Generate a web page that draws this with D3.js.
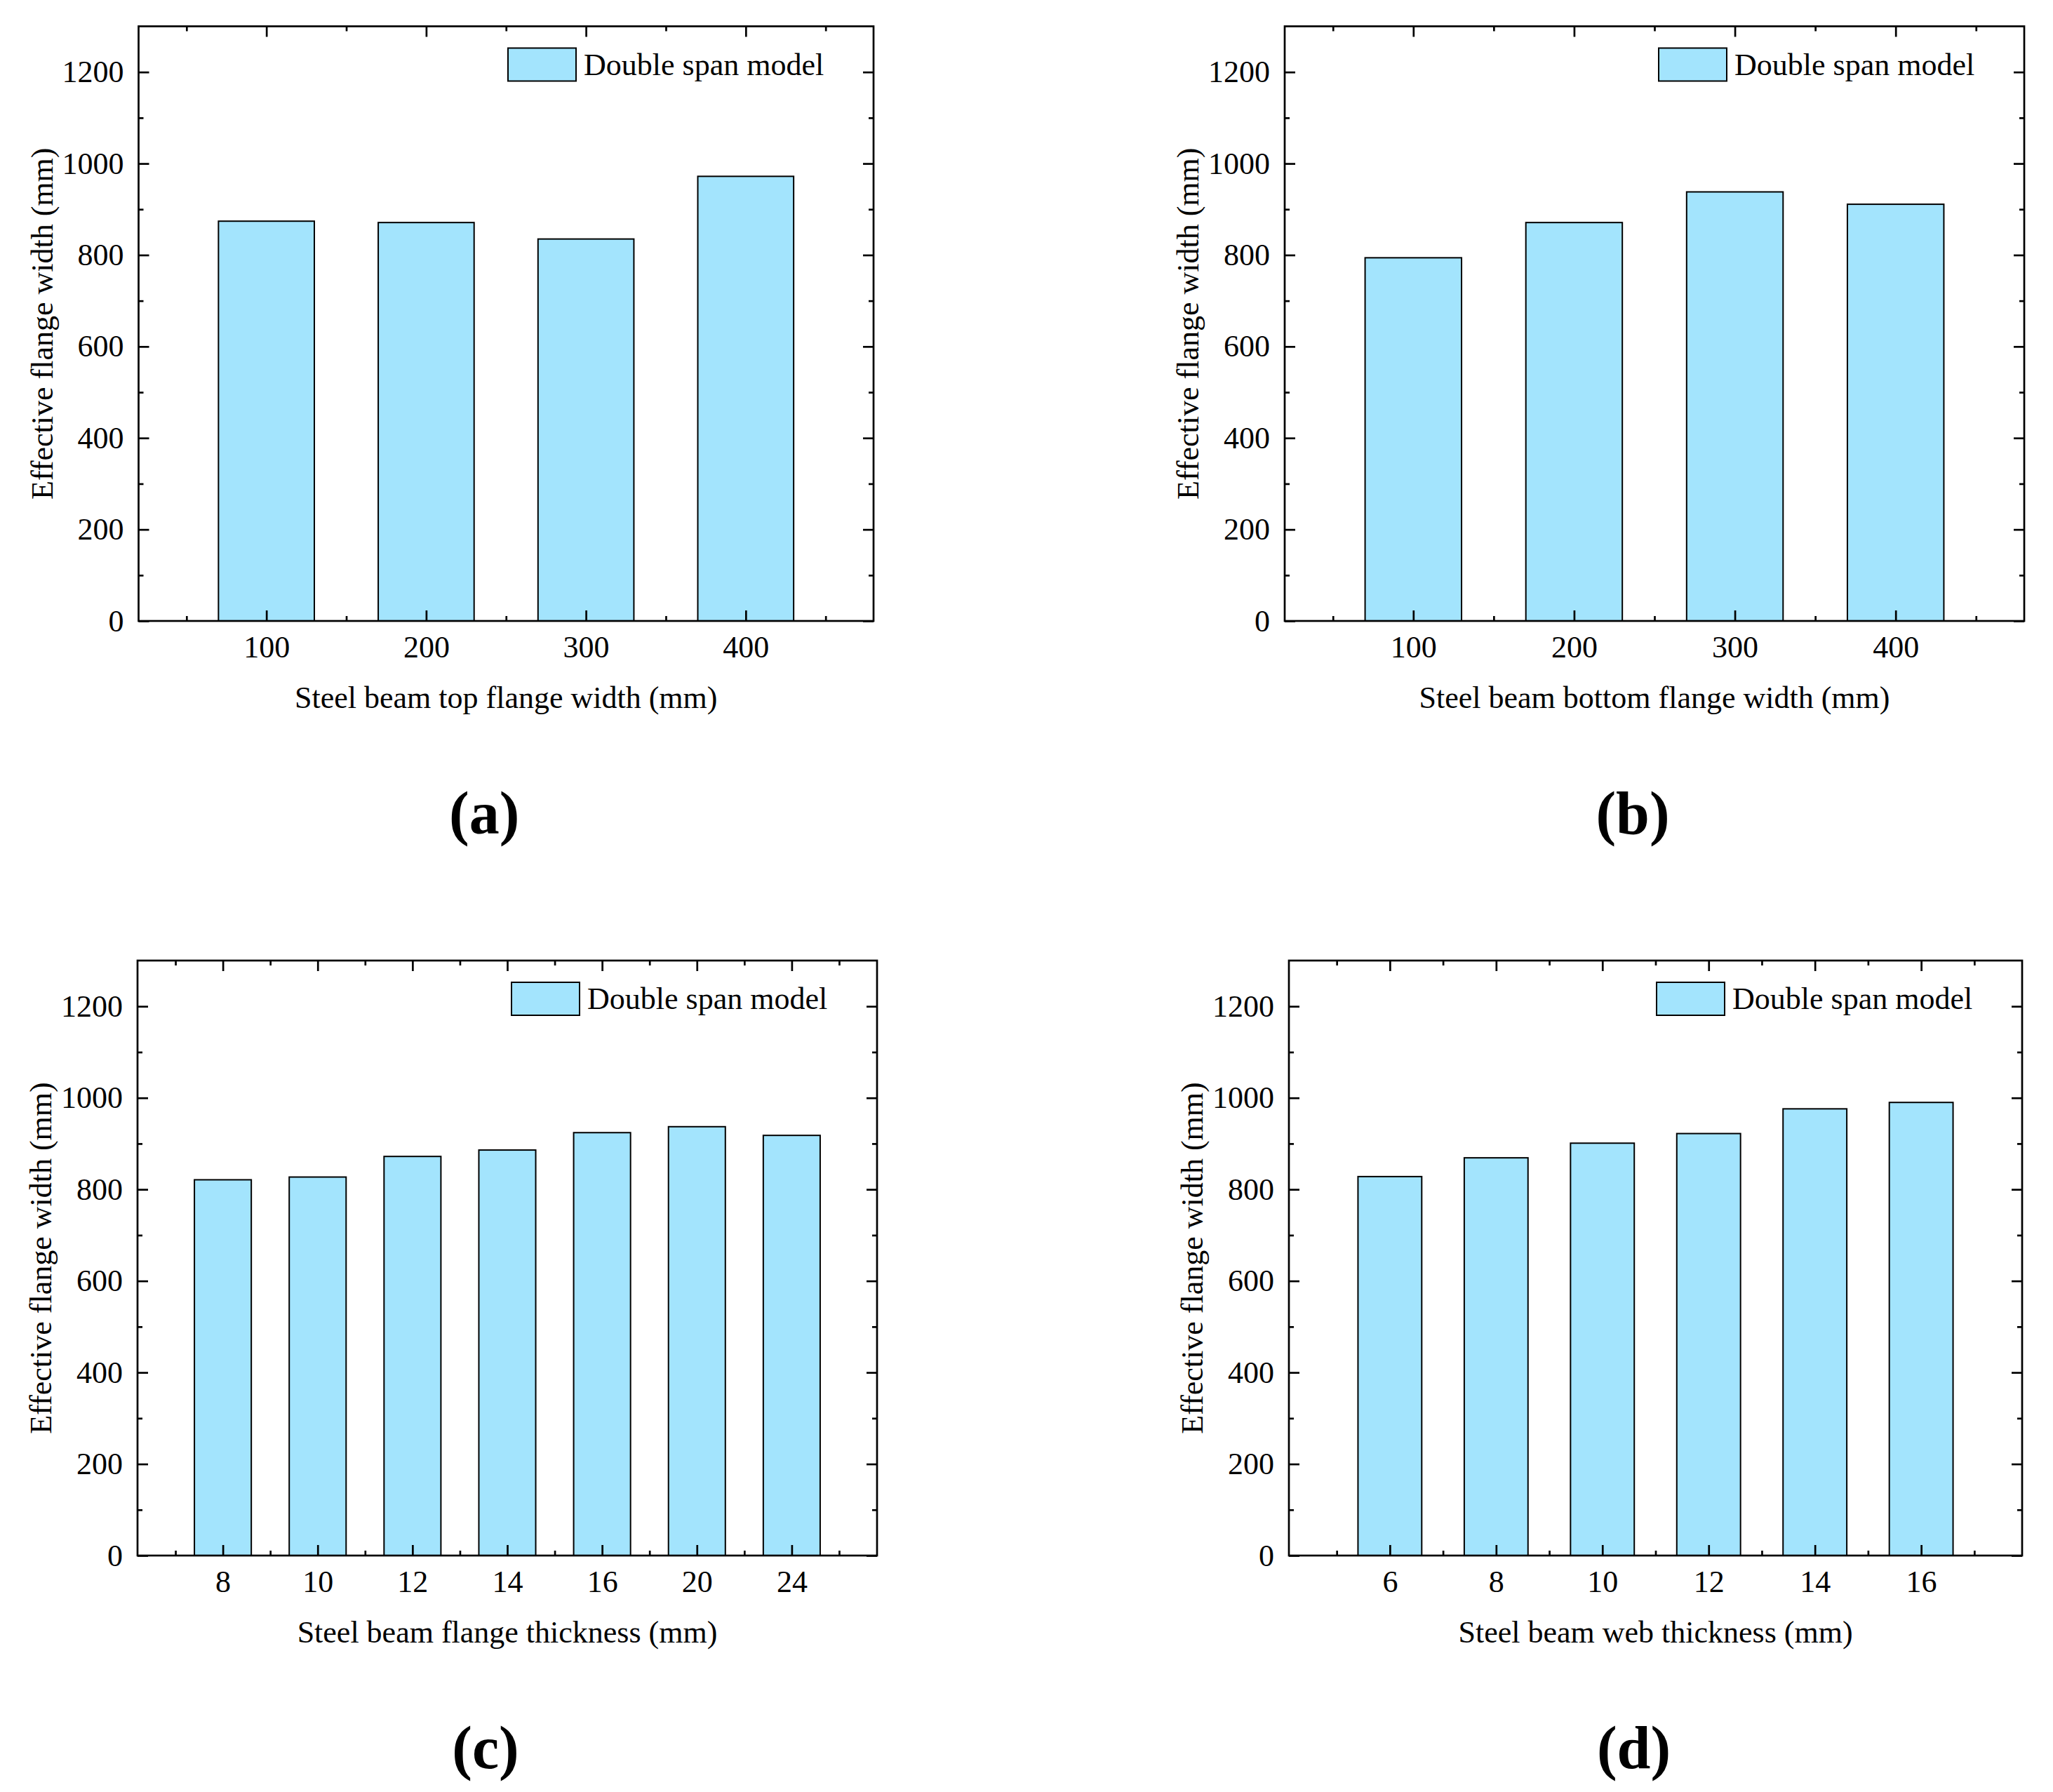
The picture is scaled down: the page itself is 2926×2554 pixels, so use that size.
<!DOCTYPE html>
<html lang="en">
<head>
  <meta charset="UTF-8" />
  <title>Effective flange width - double span model</title>
  <script src="https://d3js.org/d3.v7.min.js"></script>
  <style>
    body { margin: 0; background: #fff; }
    svg text { font-family: "Liberation Serif", "Times New Roman", serif !important; fill: #000; }
  </style>
</head>
<body>
  <svg id="fig" width="2926" height="2554"></svg>

  <script>
    // Data
    const topFlangeWidths = ["100", "200", "300", "400"];
    const topFlangeValues = [874, 871, 835, 972];

    const bottomFlangeWidths = ["100", "200", "300", "400"];
    const bottomFlangeValues = [794, 871, 938, 911];

    const flangeThickness = ["8", "10", "12", "14", "16", "20", "24"];
    const flangeThicknessValues = [821, 827, 872, 886, 924, 937, 918];

    const webThickness = ["6", "8", "10", "12", "14", "16"];
    const webThicknessValues = [828, 869, 901, 922, 976, 990];

    const yTicks = [0, 200, 400, 600, 800, 1000, 1200];
    const yMinorTicks = [100, 300, 500, 700, 900, 1100];
    const yMax = 1300;
    const legendLabel = "Double span model";
    const yTitle = "Effective flange width (mm)";

    const fillColor = "#a3e4fd";
    const serif = "'Liberation Serif', 'Times New Roman', serif";
    const svg = d3.select("#fig");

    function drawPanel(p) {
      const g = svg.append("g").style("font-family", serif);
      const n = p.categories.length;

      // x positions are 1..n, origin style range around them
      const x = d3.scaleLinear().domain(p.xRange).range([p.left, p.right]);
      const y = d3.scaleLinear().domain([0, yMax]).range([p.bottom, p.top]);
      const idx = d3.range(1, n + 1);
      const halfIdx = d3.range(0, n + 1).map(i => i + 0.5);

      // Bars
      g.selectAll(".bar")
        .data(p.values)
        .enter().append("rect")
          .attr("class", "bar")
          .attr("x", (d, i) => x(i + 1 - 0.3))
          .attr("width", (d, i) => x(i + 1.3) - x(i + 0.7))
          .attr("y", d => y(d))
          .attr("height", d => y(0) - y(d))
          .attr("fill", fillColor)
          .attr("stroke", "#000")
          .attr("stroke-width", 2);

      // Axes (ticks point inwards)
      const fmt = d3.format("d");
      const bottomAxis = g.append("g")
        .attr("transform", `translate(0,${p.bottom})`)
        .call(d3.axisBottom(x).tickValues(idx).tickSize(-15).tickPadding(21)
          .tickFormat(d => p.categories[d - 1]));
      const bottomMinor = g.append("g")
        .attr("transform", `translate(0,${p.bottom})`)
        .call(d3.axisBottom(x).tickValues(halfIdx).tickSize(-7).tickFormat(""));
      const topAxis = g.append("g")
        .attr("transform", `translate(0,${p.top})`)
        .call(d3.axisTop(x).tickValues(idx).tickSize(-15).tickFormat(""));
      const topMinor = g.append("g")
        .attr("transform", `translate(0,${p.top})`)
        .call(d3.axisTop(x).tickValues(halfIdx).tickSize(-7).tickFormat(""));
      const leftAxis = g.append("g")
        .attr("transform", `translate(${p.left},0)`)
        .call(d3.axisLeft(y).tickValues(yTicks).tickSize(-15).tickPadding(21).tickFormat(fmt));
      const leftMinor = g.append("g")
        .attr("transform", `translate(${p.left},0)`)
        .call(d3.axisLeft(y).tickValues(yMinorTicks).tickSize(-7).tickFormat(""));
      const rightAxis = g.append("g")
        .attr("transform", `translate(${p.right},0)`)
        .call(d3.axisRight(y).tickValues(yTicks).tickSize(-15).tickFormat(""));
      const rightMinor = g.append("g")
        .attr("transform", `translate(${p.right},0)`)
        .call(d3.axisRight(y).tickValues(yMinorTicks).tickSize(-7).tickFormat(""));

      [bottomAxis, bottomMinor, topAxis, topMinor, leftAxis, leftMinor, rightAxis, rightMinor].forEach(a => {
        a.attr("font-family", null).style("font-family", serif);
        a.select(".domain").remove();
        a.selectAll("line").attr("stroke", "#000").attr("stroke-width", 2.7);
        a.selectAll("text")
          .attr("font-size", "44px")
          .style("font-family", serif);
      });

      // Frame
      g.append("rect")
        .attr("x", p.left)
        .attr("y", p.top)
        .attr("width", p.right - p.left)
        .attr("height", p.bottom - p.top)
        .attr("fill", "none")
        .attr("stroke", "#000")
        .attr("stroke-width", 2.7);

      // Legend
      const lx = p.right - 521, ly = p.top + 31;
      g.append("rect")
        .attr("x", lx).attr("y", ly)
        .attr("width", 97).attr("height", 47)
        .attr("fill", fillColor)
        .attr("stroke", "#000")
        .attr("stroke-width", 2);
      g.append("text")
        .attr("x", lx + 108)
        .attr("y", p.top + 69)
        .attr("font-size", "44px")
        .text(legendLabel);

      // Axis titles
      g.append("text")
        .attr("x", (p.left + p.right) / 2)
        .attr("y", p.bottom + 124)
        .attr("text-anchor", "middle")
        .attr("font-size", "44px")
        .text(p.xTitle);

      g.append("text")
        .attr("transform", `translate(${p.left - 123},${(p.top + p.bottom) / 2}) rotate(-90)`)
        .attr("text-anchor", "middle")
        .attr("font-size", "44px")
        .text(yTitle);

      // Panel label
      g.append("text")
        .attr("x", (p.left + p.right) / 2 - 31)
        .attr("y", p.bottom + 303)
        .attr("text-anchor", "middle")
        .attr("font-size", "86px")
        .attr("font-weight", "bold")
        .text(p.label);
    }

    drawPanel({
      categories: topFlangeWidths, values: topFlangeValues, xRange: [0.2, 4.8],
      left: 197.5, right: 1245, top: 37.5, bottom: 885,
      xTitle: "Steel beam top flange width (mm)", label: "(a)"
    });
    drawPanel({
      categories: bottomFlangeWidths, values: bottomFlangeValues, xRange: [0.2, 4.8],
      left: 1831, right: 2885, top: 37.5, bottom: 885,
      xTitle: "Steel beam bottom flange width (mm)", label: "(b)"
    });
    drawPanel({
      categories: flangeThickness, values: flangeThicknessValues, xRange: [0.1, 7.9],
      left: 196, right: 1250, top: 1369, bottom: 2217,
      xTitle: "Steel beam flange thickness (mm)", label: "(c)"
    });
    drawPanel({
      categories: webThickness, values: webThicknessValues, xRange: [0.05, 6.95],
      left: 1837, right: 2882, top: 1369, bottom: 2217,
      xTitle: "Steel beam web thickness (mm)", label: "(d)"
    });
  </script>
</body>
</html>
